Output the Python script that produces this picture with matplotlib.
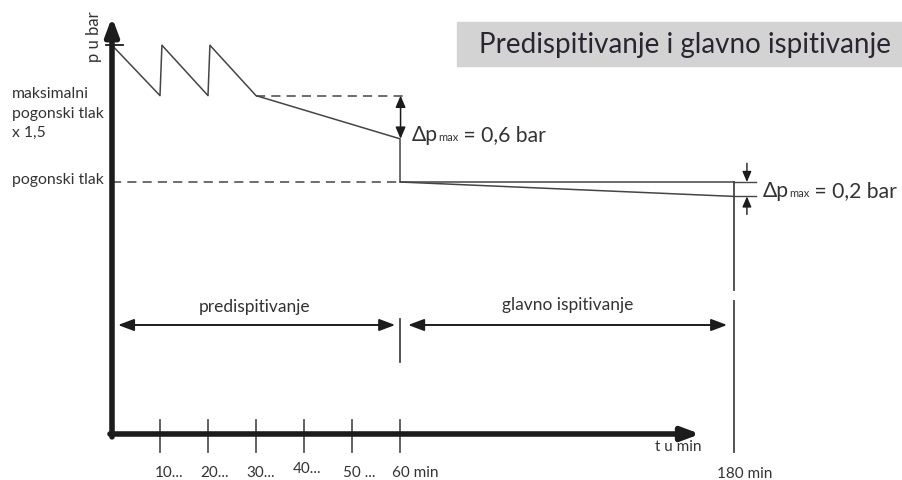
import numpy as np
import matplotlib
matplotlib.use('Agg')
import matplotlib.pyplot as plt
from matplotlib.patches import Rectangle

plt.rcParams['font.family'] = ['Lato', 'DejaVu Sans']

# pressure trace (schematic): minutes vs bar
trace_min = [0, 10, 10.4, 20, 20.4, 30, 60, 60, 180]
trace_bar = [5.4, 4.7, 5.4, 4.7, 5.4, 4.7, 4.1, 3.5, 3.3]
p_test = 5.4          # filling pressure
p_max15 = 4.7         # maksimalni pogonski tlak x 1,5
p_oper = 3.5          # pogonski tlak
drop_pre = 0.6
drop_main = 0.2
t_pre_end = 60
t_main_end = 180
tick_min = [10, 20, 30, 40, 50, 60]
tick_labels = ['10...', '20...', '30...', '40...', '50 ...', '60 min']
end_label = '180 min'

W, H = 902, 481
TXT = '#333333'
LN = '#454545'
AX = '#1c1c1c'
K = 0.58   # time after 60 min is drawn compressed


def fwd(t):
    t = np.asarray(t, dtype=float)
    return np.where(t <= 60, t, 60 + (t - 60) * K)


def inv(u):
    u = np.asarray(u, dtype=float)
    return np.where(u <= 60, u, 60 + (u - 60) / K)


def fx(x):
    return x / W


def fy(y):
    return 1 - y / H


fig = plt.figure(figsize=(W / 100, H / 100), dpi=100)
ax = fig.add_axes([0, 0, 1, 1])
ax.set_xscale('function', functions=(fwd, inv))
ax.set_xlim(-23.33, 240.3)
ax.set_ylim(-0.639, 6.042)
ax.axis('off')

# axes with arrows
arr = dict(arrowstyle='-|>,head_length=0.75,head_width=0.28', lw=4,
           color=AX, mutation_scale=14, shrinkA=0, shrinkB=0)
ax.annotate('', xy=(0, 5.79), xytext=(0, -0.04), arrowprops=arr)
ax.annotate('', xy=(167.8, 0), xytext=(-0.42, 0), arrowprops=arr)
ax.plot([-1.25, 2.3], [p_test, p_test], color=AX, lw=1.3)

# x ticks
for t in tick_min:
    ax.plot([t, t], [-0.25, 0.19], color=LN, lw=1.2)

# pressure trace
ax.plot(trace_min, trace_bar, color=LN, lw=1.1)
ax.plot([t_pre_end, t_main_end], [p_oper, p_oper], color=LN, lw=1.1)
dash = (0, (6, 4))
ax.plot([0, t_pre_end], [p_oper, p_oper], color=LN, lw=1.1, ls=dash)
ax.plot([30, 61], [p_max15, p_max15], color=LN, lw=1.1, ls=dash)

# end-of-test line at 180 min and phase separator at 60 min
ax.plot([t_main_end] * 2, [p_oper, 2.0], color=LN, lw=1.3)
ax.plot([t_main_end] * 2, [1.85, -0.25], color=LN, lw=1.3)
ax.plot([t_pre_end] * 2, [1.0, 1.6], color=LN, lw=1.3)

# delta p markers
small = dict(arrowstyle='<|-|>,head_length=0.7,head_width=0.3', lw=1.1,
             color=AX, mutation_scale=10, shrinkA=0, shrinkB=0)
ax.annotate('', xy=(60.2, p_max15), xytext=(60.2, p_max15 - drop_pre),
            arrowprops=small)
one = dict(arrowstyle='-|>,head_length=0.7,head_width=0.3', lw=1.0,
           color=AX, mutation_scale=9, shrinkA=0, shrinkB=0)
ax.plot([t_main_end, 188], [p_oper, p_oper], color=LN, lw=1.0)
ax.plot([t_main_end, 188], [p_oper - drop_main] * 2, color=LN, lw=1.0)
ax.annotate('', xy=(184.6, p_oper), xytext=(184.6, 3.76), arrowprops=one)
ax.annotate('', xy=(184.6, p_oper - drop_main), xytext=(184.6, 3.05),
            arrowprops=one)

# phase arrows
ph = dict(arrowstyle='<|-|>,head_length=0.8,head_width=0.3', lw=1.4,
          color=AX, mutation_scale=12, shrinkA=0, shrinkB=0)
ax.annotate('', xy=(1.25, 1.514), xytext=(59.0, 1.514), arrowprops=ph)
ax.annotate('', xy=(62.9, 1.514), xytext=(177.5, 1.514), arrowprops=ph)

# tick labels
offs = [-5, -8, -10, -11, -9, -8]
lifts = [0, 0, 0, 4, 0, 0]
for t, lab, o, l in zip(tick_min, tick_labels, offs, lifts):
    ax.annotate(lab, xy=(t, 0), xytext=(o, -42 + l), textcoords='offset pixels',
                ha='left', va='baseline', fontsize=11, color=TXT)
ax.annotate(end_label, xy=(t_main_end, 0), xytext=(-17, -43),
            textcoords='offset pixels', ha='left', va='baseline',
            fontsize=11, color=TXT)
fig.text(fx(655), fy(451), 't u min', fontsize=11, color=TXT, va='baseline')

# labels
fig.text(fx(94), fy(37), 'p u bar', rotation=90, ha='center', va='center',
         fontsize=12, color=TXT)
for yb, s in [(98, 'maksimalni'), (118, 'pogonski tlak'), (137, 'x 1,5'),
              (184, 'pogonski tlak')]:
    fig.text(fx(12), fy(yb), s, fontsize=11.3, color=TXT, va='baseline')
fig.text(fx(255), fy(312), 'predispitivanje', ha='center', va='baseline',
         fontsize=12.5, color=TXT)
fig.text(fx(568), fy(310), 'glavno ispitivanje', ha='center', va='baseline',
         fontsize=12.5, color=TXT)

# title box
fig.patches.append(Rectangle((fx(457), fy(67)), 445 / W, 44 / H,
                             transform=fig.transFigure, color='#d3d3d3',
                             zorder=0))
fig.text(fx(685), fy(53), 'Predispitivanje i glavno ispitivanje', ha='center',
         va='baseline', fontsize=20, color='#2a2530')

# delta p labels, drawn piece by piece
renderer = fig.canvas.get_renderer()


def chain(x, yb, pieces):
    for s, size in pieces:
        t = fig.text(fx(x), fy(yb), s, fontsize=size, color=TXT, va='baseline')
        x += t.get_window_extent(renderer).width


chain(412, 141, [('Δp', 15.2), ('max', 8), (' = 0,6 bar', 15.2)])
chain(763, 197, [('Δp', 15.2), ('max', 8), (' = 0,2 bar', 15.2)])

fig.savefig('out.png', dpi=100)
